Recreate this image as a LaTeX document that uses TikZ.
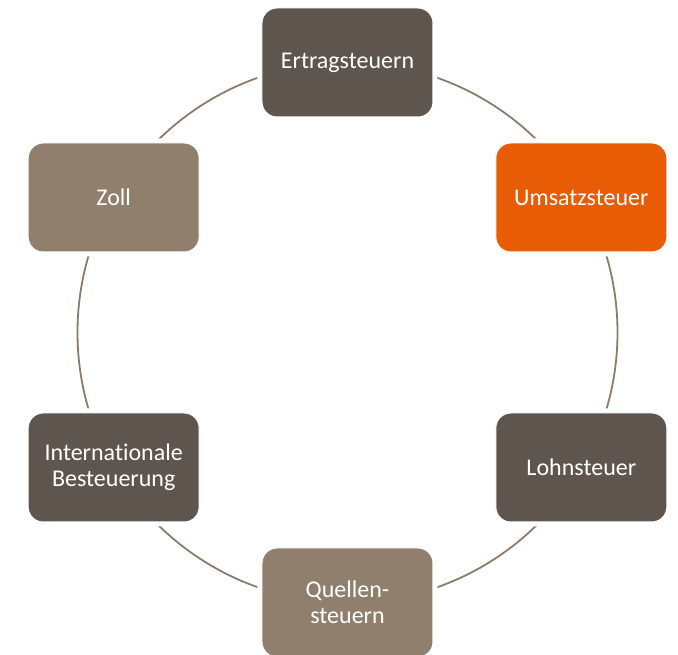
\documentclass[tikz,border=0pt]{standalone}
\usepackage{fontspec}
\setmainfont[Ligatures=NoCommon]{Carlito}
\usepackage{tikz}
\usetikzlibrary{positioning}

\definecolor{darktaupe}{HTML}{5E554F}
\definecolor{lighttaupe}{HTML}{8F7F6C}
\definecolor{accent}{HTML}{E95C06}
\definecolor{ringline}{HTML}{8C7B6A}

\begin{document}
\begin{tikzpicture}[
  x=1pt, y=1pt,
  every node/.style={font=\fontsize{24}{26}\selectfont, align=center, text=white},
  taxbox/.style={rectangle, rounded corners=15pt, minimum width=171pt, minimum height=109pt,
    draw=white, line width=1pt, preaction={draw=white, line width=9pt}},
  darkbox/.style={taxbox, fill=darktaupe},
  lightbox/.style={taxbox, fill=lighttaupe},
  accentbox/.style={taxbox, fill=accent},
  ring/.style={draw=ringline, line width=1.8pt}
]
\clip (-347.5,-322.5) rectangle (330.5,332.5);

\coordinate (center) at (0,0);
\draw[ring] (center) circle[radius=270];

\node[darkbox] (ertrag) at (90:270) {Ertragsteuern};
\node[accentbox] (umsatz) at (30:270) {Umsatzsteuer};
\node[darkbox] (lohn) at (-30:270) {Lohnsteuer};
\node[lightbox] (quellen) at (-90:270) {Quellen-\\steuern};
\node[darkbox] (intl) at (-150:270) {Internationale\\Besteuerung};
\node[lightbox] (zoll) at (150:270) {Zoll};

\end{tikzpicture}
\end{document}
